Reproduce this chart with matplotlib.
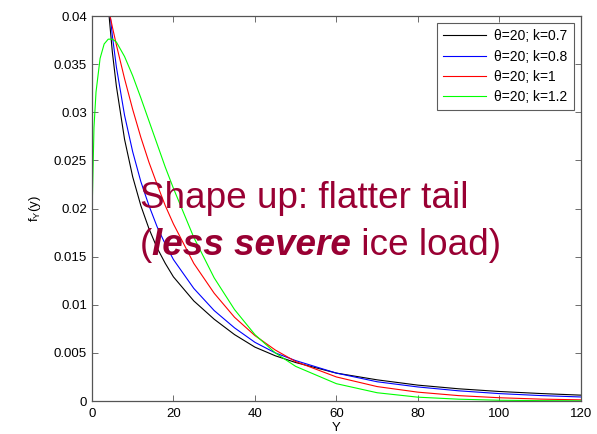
import matplotlib as mpl; mpl.use("Agg")
import matplotlib.pyplot as plt

# values (theta=20, four shape factors k)
y_main = [2, 3, 4, 5, 6, 8, 10, 12, 14, 16, 18, 20, 25, 30, 35, 40, 45, 50,
          60, 70, 80, 90, 100, 110, 120]
f_k07 = [0.0572, 0.0474, 0.0410, 0.0363, 0.0327, 0.0272, 0.0233, 0.0203, 0.0179, 0.0159,
         0.0143, 0.0129, 0.0104, 0.0085, 0.0069, 0.0056, 0.0047, 0.0040,
         0.0029, 0.0022, 0.00165, 0.00127, 0.00099, 0.00078, 0.00061]
f_k08 = [0.0541, 0.0470, 0.0419, 0.0380, 0.0347, 0.0297, 0.0259, 0.0228, 0.0203, 0.0181,
         0.0163, 0.0147, 0.0117, 0.0094, 0.0076, 0.0061, 0.0050, 0.0042,
         0.0029, 0.0020, 0.00146, 0.00106, 0.00077, 0.00057, 0.00042]
f_k10 = [0.0452, 0.0430, 0.0409, 0.0389, 0.0370, 0.0335, 0.0303, 0.0274, 0.0248, 0.0225,
         0.0203, 0.0184, 0.0143, 0.0112, 0.0087, 0.0068, 0.0053, 0.0041,
         0.0025, 0.0015, 0.00092, 0.00056, 0.00034, 0.00020, 0.00012]
y_k12 = [0.1, 0.5, 1] + y_main
f_k12 = [0.0208, 0.0284, 0.0321,
         0.0356, 0.0371, 0.0376, 0.0376, 0.0373, 0.0358, 0.0338, 0.0315, 0.0291, 0.0267,
         0.0243, 0.0221, 0.0170, 0.0128, 0.0095, 0.0069, 0.0050, 0.0036,
         0.0018, 0.00086, 0.00040, 0.00019, 0.00008, 0.00004, 0.00002]

labels = ["θ=20; k=0.7", "θ=20; k=0.8", "θ=20; k=1", "θ=20; k=1.2"]
colors = ["#000000", "#0000ff", "#ff0000", "#00ff00"]

mpl.rcParams.update({"font.family": "Liberation Sans", "font.size": 9})

fig = plt.figure(figsize=(5.97, 4.34), dpi=100)
ax = fig.add_axes([0.154, 0.076, 0.819, 0.887])

ax.plot(y_main, f_k07, color=colors[0], lw=0.8, label=labels[0])
ax.plot(y_main, f_k08, color=colors[1], lw=0.8, label=labels[1])
ax.plot(y_main, f_k10, color=colors[2], lw=0.8, label=labels[2])
ax.plot(y_k12, f_k12, color=colors[3], lw=0.8, label=labels[3])

ax.set_xlim(0, 120); ax.set_ylim(0, 0.04)
ax.set_xticks(range(0, 121, 20))
ax.set_yticks([0, 0.005, 0.01, 0.015, 0.02, 0.025, 0.03, 0.035, 0.04])
ax.set_yticklabels(["0", "0.005", "0.01", "0.015", "0.02", "0.025", "0.03", "0.035", "0.04"])
ax.tick_params(direction="in", top=True, right=True, length=4, width=0.6,
               color="#555555", labelsize=9.5)
ax.tick_params(axis="x", pad=5)
for s in ax.spines.values():
    s.set_color("#555555"); s.set_linewidth(0.9)
ax.set_ylabel(r"f$_\mathregular{Y}$(y)", fontsize=9.5, labelpad=8)
fig.text(0.154 + 0.819 * 0.5, 0.0, "Y", fontsize=9.5, ha="center", va="bottom")

leg = ax.legend(loc="upper right", fontsize=10, frameon=True, fancybox=False,
                handlelength=3.1, borderaxespad=0.5, labelspacing=0.45,
                borderpad=0.45, handletextpad=0.6)
leg.get_frame().set_edgecolor("#333333"); leg.get_frame().set_linewidth(0.8)

red = "#990033"
fs = 26.6
ax.text(0.098, 0.502, "Shape up: flatter tail", transform=ax.transAxes,
        fontsize=fs, color=red, ha="left", va="baseline")
ax.text(0.098, 0.380, "(", transform=ax.transAxes, fontsize=fs, color=red,
        ha="left", va="baseline")
t1 = ax.annotate("less severe", xy=(1, 0), xycoords=ax.texts[-1], fontsize=fs,
                 color=red, fontweight="bold", fontstyle="italic", va="bottom",
                 xytext=(0, 0), textcoords="offset points")
ax.annotate(" ice load)", xy=(1, 0), xycoords=t1, fontsize=fs, color=red,
            va="bottom")

fig.savefig("out.png", dpi=100)
